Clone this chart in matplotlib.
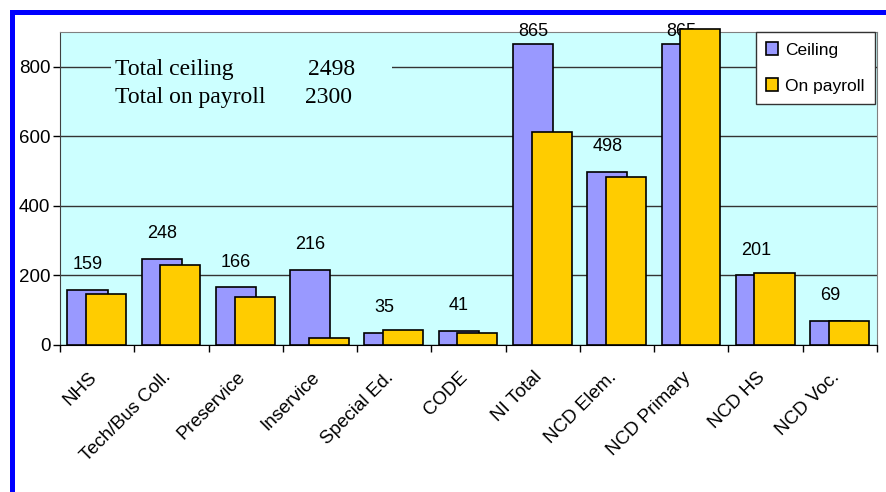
import numpy as np
import matplotlib
matplotlib.use("Agg")
import matplotlib.pyplot as plt
import matplotlib.transforms as mtransforms
from matplotlib.patches import Rectangle

# data
categories = ["NHS", "Tech/Bus Coll.", "Preservice", "Inservice", "Special Ed.",
              "CODE", "NI Total", "NCD Elem.", "NCD Primary", "NCD HS", "NCD Voc."]
ceiling = [159, 248, 166, 216, 35, 41, 865, 498, 865, 201, 69]
on_payroll = [148, 230, 137, 21, 43, 34, 613, 482, 910, 207, 70]
total_ceiling = 2498
total_payroll = 2300
yticks = [0, 200, 400, 600, 800]

plt.rcParams['font.family'] = ['Liberation Sans', 'DejaVu Sans']

fig = plt.figure(figsize=(8.86, 4.92), dpi=100)
ax = fig.add_axes([0.0677, 0.2988, 0.9221, 0.6362])
ax.set_facecolor('#ccffff')

x = np.arange(len(categories))
width = 0.54
ax.bar(x - 0.13, ceiling, width, color='#9999ff', edgecolor='black',
       linewidth=1.2, label='Ceiling', zorder=3)
ax.bar(x + 0.12, on_payroll, width, color='#ffcc00', edgecolor='black',
       linewidth=1.2, label='On payroll', zorder=4, clip_on=False)

for xi, v in zip(x, ceiling):
    off = 9 if v > 800 else 18
    ax.annotate(str(v), (xi - 0.13, v), xytext=(0, off), textcoords='offset points',
                ha='center', va='center', fontsize=13, zorder=3.5, annotation_clip=False)

ax.set_xlim(-0.5, len(categories) - 0.5)
ax.set_ylim(0, 900)
ax.set_yticks(yticks)
ax.set_yticklabels([str(t) for t in yticks], fontsize=13.5)
ax.yaxis.grid(True, color='#333333', linewidth=1, zorder=1)
ax.set_axisbelow(True)
ax.tick_params(axis='y', direction='out', length=5, width=1, pad=2, colors='black')

ax.set_xticks(np.arange(len(categories) + 1) - 0.5)
ax.set_xticklabels([])
ax.set_xticks(x, minor=True)
ax.set_xticklabels(categories, minor=True, rotation=45, ha='right',
                   rotation_mode='anchor', fontsize=13.5)
ax.tick_params(axis='x', which='major', direction='out', length=5, width=1)
ax.tick_params(axis='x', which='minor', length=0, pad=17)
shift = mtransforms.ScaledTranslation(-9 / 100, 0, fig.dpi_scale_trans)
for lbl in ax.get_xticklabels(minor=True):
    lbl.set_transform(lbl.get_transform() + shift)

for s in ['top', 'right']:
    ax.spines[s].set_color('#808080')
ax.spines['left'].set_color('#404040')
ax.spines['bottom'].set_color('black')

# totals text block
ax.add_patch(Rectangle((0.062, 0.72), 0.345, 0.2, transform=ax.transAxes,
                       facecolor='#ccffff', edgecolor='none', zorder=2))
tfont = dict(family=['Liberation Serif', 'DejaVu Serif'], fontsize=17, transform=ax.transAxes,
             zorder=2.5, va='baseline')
ax.text(0.067, 0.862, 'Total ceiling', **tfont)
ax.text(0.304, 0.862, str(total_ceiling), **tfont)
ax.text(0.067, 0.772, 'Total on payroll', **tfont)
ax.text(0.300, 0.772, str(total_payroll), **tfont)

leg = ax.legend(loc='upper right', bbox_to_anchor=(0.998, 1.0), borderaxespad=0,
                fontsize=12.5, frameon=True, fancybox=False, edgecolor='#333333',
                framealpha=1, handlelength=0.7, handleheight=0.7, handletextpad=0.4,
                labelspacing=1.2, borderpad=0.6)
leg.get_frame().set_linewidth(1)
leg.set_zorder(6)

# blue frame around the slide
fig.add_artist(Rectangle((10 / 886, 0), 5 / 886, 482 / 492, transform=fig.transFigure,
                         facecolor='#0000ff', edgecolor='none'))
fig.add_artist(Rectangle((10 / 886, 477 / 492), 876 / 886, 5 / 492, transform=fig.transFigure,
                         facecolor='#0000ff', edgecolor='none'))

fig.savefig('out.png', dpi=100)
